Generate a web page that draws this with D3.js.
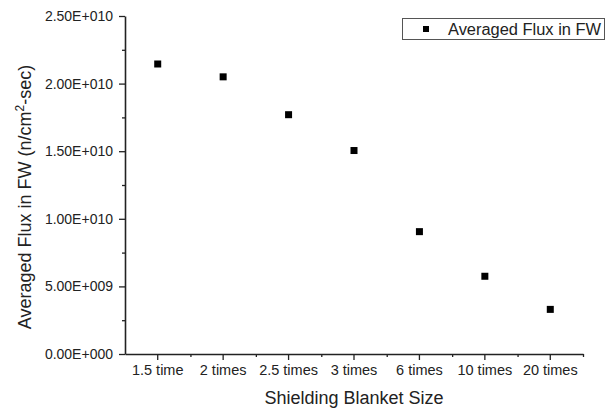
<!DOCTYPE html>
<html lang="en">
<head>
    <meta charset="UTF-8">
    <script src="https://cdnjs.cloudflare.com/ajax/libs/d3/7.8.5/d3.min.js"></script>
    <style>
        body { margin: 0; background: #fff; }
        svg text { font-family: "Liberation Sans", Arial, sans-serif; }
    </style>
</head>
<body>
    <svg width="613" height="409"></svg>
    <script>
        const categories = ["1.5 time", "2 times", "2.5 times", "3 times", "6 times", "10 times", "20 times"];
        const fluxValues = [2.145e10, 2.05e10, 1.77e10, 1.505e10, 9.05e9, 5.75e9, 3.3e9];
        const yTicks = [0, 5e9, 1e10, 1.5e10, 2e10, 2.5e10];
        const yMinorTicks = [2.5e9, 7.5e9, 1.25e10, 1.75e10, 2.25e10];
        const seriesName = "Averaged Flux in FW";

        const ink = "#222";
        const svg = d3.select("svg");

        const x = d3.scaleBand().domain(categories).range([125, 583]);
        const y = d3.scaleLinear().domain([0, 2.5e10]).range([354, 16]);

        // Origin-style scientific labels: 2.50E+010
        const sci = v => {
            if (v === 0) return "0.00E+000";
            const e = Math.floor(Math.log10(v));
            const m = v / Math.pow(10, e);
            return m.toFixed(2) + "E+" + String(e).padStart(3, "0");
        };

        // minor ticks first so the main axis lines sit on top
        svg.append("g")
            .attr("transform", "translate(0,354)")
            .call(d3.axisBottom(d3.scaleLinear().domain([0, 7]).range([125, 583]))
                .tickValues([1, 2, 3, 4, 5, 6, 7]).tickSize(3).tickFormat(""))
            .call(g => g.select(".domain").remove());

        svg.append("g")
            .attr("transform", "translate(125,0)")
            .call(d3.axisLeft(y).tickValues(yMinorTicks).tickSize(3).tickFormat(""))
            .call(g => g.select(".domain").remove());

        const xAxis = svg.append("g")
            .attr("transform", "translate(0,354)")
            .call(d3.axisBottom(x).tickSizeInner(6).tickSizeOuter(0).tickPadding(5));

        const yAxis = svg.append("g")
            .attr("transform", "translate(125,0)")
            .call(d3.axisLeft(y).tickValues(yTicks).tickFormat(sci)
                .tickSizeInner(6).tickSizeOuter(0).tickPadding(6));

        svg.selectAll("g").attr("font-family", null);
        svg.selectAll(".tick line, .domain")
            .attr("stroke", ink)
            .attr("stroke-width", 1.3);
        svg.selectAll(".domain").attr("stroke-width", 1.6);

        xAxis.selectAll("text").attr("fill", ink).style("font-size", "14.5px");
        yAxis.selectAll("text").attr("fill", ink).style("font-size", "14px");

        // axis titles
        svg.append("text")
            .attr("x", 354)
            .attr("y", 404)
            .attr("text-anchor", "middle")
            .attr("fill", ink)
            .style("font-size", "18px")
            .text("Shielding Blanket Size");

        const yTitle = svg.append("text")
            .attr("transform", "translate(31,197) rotate(-90)")
            .attr("text-anchor", "middle")
            .attr("fill", ink)
            .style("font-size", "18px");
        yTitle.append("tspan").text("Averaged Flux in FW (n/cm");
        yTitle.append("tspan").attr("dy", -7).style("font-size", "12px").text("2");
        yTitle.append("tspan").attr("dy", 7).text("-sec)");

        // points
        svg.selectAll("rect.pt")
            .data(fluxValues)
            .enter()
            .append("rect")
            .attr("class", "pt")
            .attr("x", (d, i) => x(categories[i]) + x.bandwidth() / 2 - 3.5)
            .attr("y", d => y(d) - 3.5)
            .attr("width", 7)
            .attr("height", 7)
            .attr("fill", "#000");

        // legend
        const legend = svg.append("g");
        legend.append("rect")
            .attr("x", 402.5).attr("y", 18.5)
            .attr("width", 202).attr("height", 21)
            .attr("fill", "#fff")
            .attr("stroke", "#555");
        legend.append("rect")
            .attr("x", 423).attr("y", 26)
            .attr("width", 6).attr("height", 6)
            .attr("fill", "#000");
        legend.append("text")
            .attr("x", 448).attr("y", 34.5)
            .attr("fill", ink)
            .style("font-size", "16px")
            .attr("textLength", 153).attr("lengthAdjust", "spacingAndGlyphs")
            .text(seriesName);
    </script>
</body>
</html>
